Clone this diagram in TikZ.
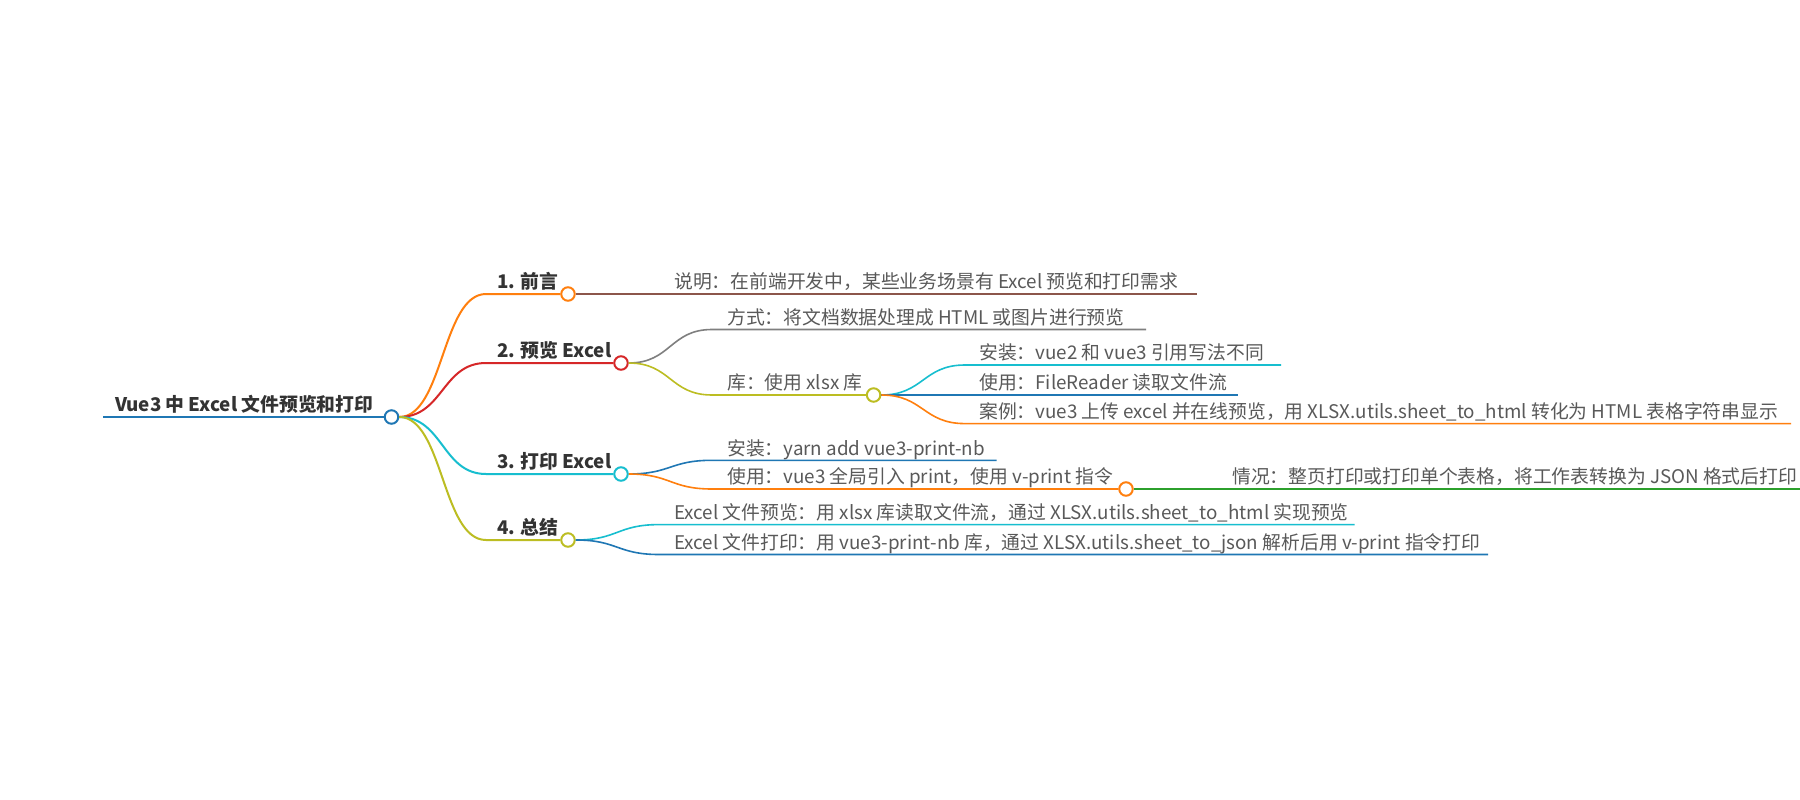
\documentclass[tikz,border=0pt]{standalone}
\usepackage{fontspec}
\setmainfont{Noto Sans CJK SC}
\usetikzlibrary{positioning}
\definecolor{mmBlue}{HTML}{1F77B4}
\definecolor{mmOrange}{HTML}{FF7F0E}
\definecolor{mmRed}{HTML}{D62728}
\definecolor{mmCyan}{HTML}{17BECF}
\definecolor{mmOlive}{HTML}{BCBD22}
\definecolor{mmGray}{HTML}{7F7F7F}
\definecolor{mmBrown}{HTML}{8C564B}
\definecolor{mmGreen}{HTML}{2CA02C}
\colorlet{background}{white}
\colorlet{topicText}{black!80}
\colorlet{leafText}{black!65}
\tikzset{
  topic/.style={font=\bfseries\fontsize{18.8}{22}\selectfont, text=topicText, inner sep=0pt, anchor=base west},
  leaf/.style={font=\fontsize{18.8}{21}\selectfont, text=leafText, inner sep=0pt, anchor=base west},
  knot/.style={circle, draw=#1, fill=white, line width=2pt, minimum size=13.5pt, inner sep=0pt},
  rootline/.style={draw=#1, line width=2.8pt},
  branchline/.style={draw=#1, line width=2pt},
  leafline/.style={draw=#1, line width=1.6pt},
}

\begin{document}
\begin{tikzpicture}[x=1pt,y=-1pt]
    \useasboundingbox[fill=background] (0,0) rectangle (1800,800);

    % root
    \coordinate (rS) at (103,417);
    \node[knot=mmBlue] (nR) at (391.5,417) {};
    \node[topic] (tR) at (115,411.5) {Vue3 中 Excel 文件预览和打印};
    \draw[rootline=mmBlue] (rS) -- (nR);

    % first level
    \node[knot=mmOrange] (n1) at (568,294) {};
    \node[knot=mmRed] (n2) at (621,363) {};
    \node[knot=mmCyan] (n3) at (621,474) {};
    \node[knot=mmOlive] (n4) at (568,540) {};
    \node[topic] (t1) at (497,288.5) {1. 前言};
    \node[topic] (t2) at (497,357.5) {2. 预览 Excel};
    \node[topic] (t3) at (497,468.5) {3. 打印 Excel};
    \node[topic] (t4) at (497,534.5) {4. 总结};
    \coordinate (a1) at (486,294);
    \coordinate (a2) at (486,363);
    \coordinate (a3) at (486,474);
    \coordinate (a4) at (486,540);
    \draw[branchline=mmOrange] (nR.east) .. controls +(44,0) and +(-44,0) .. (a1) -- (n1);
    \draw[branchline=mmRed] (nR.east) .. controls +(44,0) and +(-44,0) .. (a2) -- (n2);
    \draw[branchline=mmCyan] (nR.east) .. controls +(44,0) and +(-44,0) .. (a3) -- (n3);
    \draw[branchline=mmOlive] (nR.east) .. controls +(44,0) and +(-44,0) .. (a4) -- (n4);

    % 1. 前言
    \node[leaf] (t11) at (674,288.5) {说明：在前端开发中，某些业务场景有 Excel 预览和打印需求};
    \coordinate (e11) at (1197,294);
    \draw[leafline=mmBrown] (n1) -- (e11);

    % 2. 预览 Excel
    \node[leaf] (t21) at (727,324) {方式：将文档数据处理成 HTML 或图片进行预览};
    \node[leaf] (t22) at (727,389.5) {库：使用 xlsx 库};
    \node[knot=mmOlive] (n22) at (873.6,395) {};
    \coordinate (a21) at (712,329.5);
    \coordinate (e21) at (1146,329.5);
    \coordinate (a22) at (712,395);
    \draw[leafline=mmGray] (n2.east) .. controls +(42,0) and +(-42,0) .. (a21) -- (e21);
    \draw[leafline=mmOlive] (n2.east) .. controls +(42,0) and +(-42,0) .. (a22) -- (n22);

    \node[leaf] (t221) at (979,359.5) {安装：vue2 和 vue3 引用写法不同};
    \node[leaf] (t222) at (979,389.5) {使用：FileReader 读取文件流};
    \node[leaf] (t223) at (979,418) {案例：vue3 上传 excel 并在线预览，用 XLSX.utils.sheet\_to\_html 转化为 HTML 表格字符串显示};
    \coordinate (a221) at (965,365);
    \coordinate (e221) at (1281,365);
    \coordinate (a222) at (965,395);
    \coordinate (e222) at (1237.5,395);
    \coordinate (a223) at (965,423.6);
    \coordinate (e223) at (1791,423.6);
    \draw[leafline=mmCyan] (n22.east) .. controls +(42,0) and +(-42,0) .. (a221) -- (e221);
    \draw[leafline=mmBlue] (n22.east) -- (a222) -- (e222);
    \draw[leafline=mmOrange] (n22.east) .. controls +(42,0) and +(-42,0) .. (a223) -- (e223);

    % 3. 打印 Excel
    \node[leaf] (t31) at (727,455) {安装：yarn add vue3-print-nb};
    \node[leaf] (t32) at (727,483.5) {使用：vue3 全局引入 print，使用 v-print 指令};
    \node[knot=mmOrange] (n32) at (1126,489) {};
    \coordinate (a31) at (712,460.3);
    \coordinate (e31) at (996.5,460.3);
    \coordinate (a32) at (712,489);
    \draw[leafline=mmBlue] (n3.east) .. controls +(42,0) and +(-42,0) .. (a31) -- (e31);
    \draw[leafline=mmOrange] (n3.east) .. controls +(42,0) and +(-42,0) .. (a32) -- (n32);

    \node[leaf] (t321) at (1232,483.5) {情况：整页打印或打印单个表格，将工作表转换为 JSON 格式后打印};
    \coordinate (e321) at (1800,489);
    \draw[leafline=mmGreen] (n32) -- (e321);

    % 4. 总结
    \node[leaf] (t41) at (674,519) {Excel 文件预览：用 xlsx 库读取文件流，通过 XLSX.utils.sheet\_to\_html 实现预览};
    \node[leaf] (t42) at (674,549) {Excel 文件打印：用 vue3-print-nb 库，通过 XLSX.utils.sheet\_to\_json 解析后用 v-print 指令打印};
    \coordinate (a41) at (659,524.6);
    \coordinate (e41) at (1354.6,524.6);
    \coordinate (a42) at (659,554.5);
    \coordinate (e42) at (1488,554.5);
    \draw[leafline=mmCyan] (n4.east) .. controls +(42,0) and +(-42,0) .. (a41) -- (e41);
    \draw[leafline=mmBlue] (n4.east) .. controls +(42,0) and +(-42,0) .. (a42) -- (e42);
\end{tikzpicture}
\end{document}
